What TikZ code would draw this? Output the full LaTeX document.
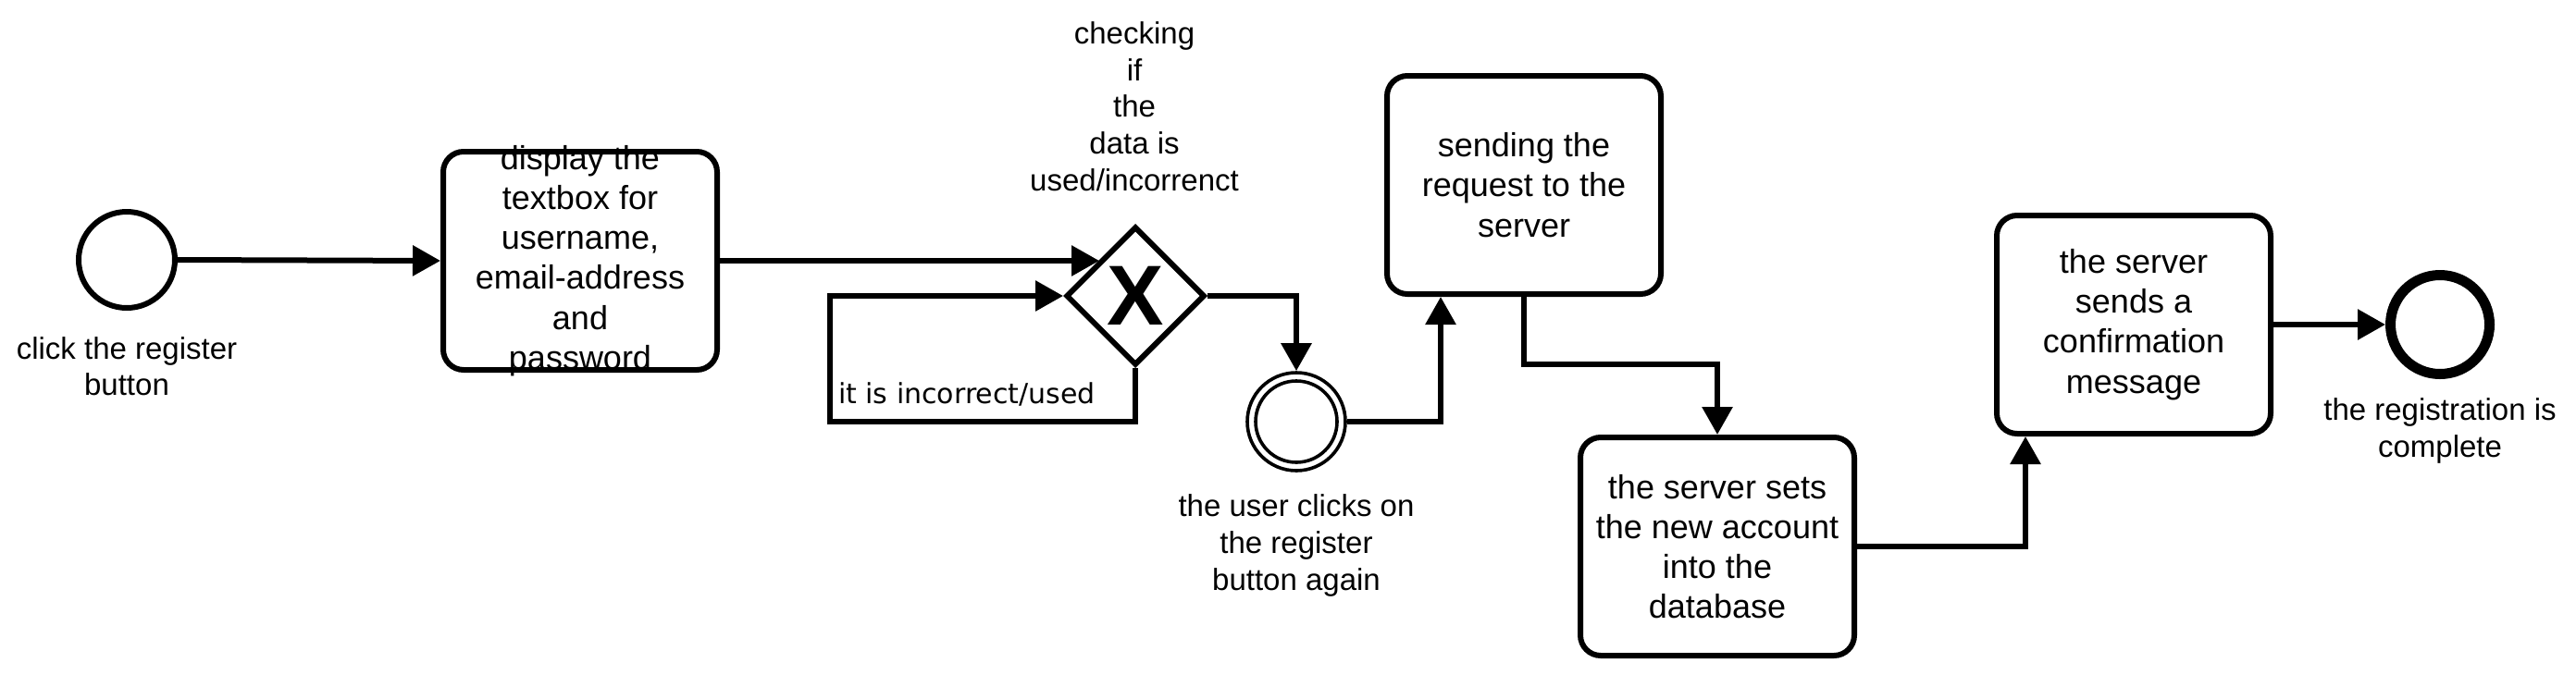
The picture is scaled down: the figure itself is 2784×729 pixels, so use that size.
\documentclass[tikz,border=0pt]{standalone}
\usepackage{fontspec}
\setmainfont{Liberation Sans}
\newfontfamily\dejavu{DejaVu Sans}
\usetikzlibrary{shapes.geometric,arrows.meta,calc}
\begin{document}
\begin{tikzpicture}[x=0.25pt,y=-0.25pt,
  line width=1.5pt,
  conn/.style={-{Triangle[length=7.5pt,width=8pt]}, line width=1.5pt, line join=miter},
  task/.style={draw, rounded corners=5.5pt, minimum width=74pt, minimum height=59pt, inner sep=0pt, line width=1.5pt},
  tasktext/.style={align=center, inner sep=0pt, font=\fontsize{9}{10.8}\selectfont},
  lbl/.style={align=center, inner sep=0pt, font=\fontsize{8.25}{9.9}\selectfont},
  startev/.style={draw, circle, minimum size=26pt, inner sep=0pt, line width=1.5pt},
  endev/.style={draw, circle, minimum size=26.75pt, inner sep=0pt, line width=2.75pt},
  interev/.style={draw, circle, minimum size=26.5pt, inner sep=0pt, line width=0.9pt},
  gateway/.style={draw, diamond, aspect=1, minimum width=37.5pt, minimum height=37.5pt, inner sep=0pt, line width=1.5pt, font=\fontsize{23}{23}\selectfont\bfseries}
]
\path[use as bounding box, fill=white] (0,0) rectangle (2784,729);

% events
\node[startev] (start) at (137,281) {};
\node[lbl] (startlbl) at (137,396) {click the register\\button};

\node[task] (t1) at (627,282) {};
\node[tasktext] (t1txt) at (627,282) {display the\\textbox for\\username,\\email-address\\and\\password};

\node[gateway] (gw) at (1227,320) {X};
\node[lbl] (gwlbl) at (1226,115) {checking\\if\\the\\data is\\used/incorrenct};

\node[interev] (ev2) at (1401,456) {};
\draw[line width=0.9pt] (ev2.center) circle[radius=11pt];
\node[lbl] (ev2lbl) at (1401,590) {the user clicks on\\the register\\button again};

\node[task] (t2) at (1647,200) {};
\node[tasktext] (t2txt) at (1647,200) {sending the\\request to the\\server};

\node[task] (t3) at (1856,591) {};
\node[tasktext] (t3txt) at (1856,591) {the server sets\\the new account\\into the\\database};

\node[task] (t4) at (2306,351) {};
\node[tasktext] (t4txt) at (2306,351) {the server\\sends a\\confirmation\\message};

\node[endev] (end) at (2637,351) {};
\node[lbl] (endlbl) at (2637,466) {the registration is\\complete};

% helper coordinates
\coordinate (l1) at (897,456);
\coordinate (l2) at (897,320);
\coordinate (c2) at (1557,0);
\coordinate (m3) at (0,394);
\coordinate (c4) at (2189,0);

% connectors
\draw[conn] (start.east) -- (t1.west);
\draw[conn] (t1.east) -- (t1.east -| gw.north west);
\draw[conn] (gw.south) |- (l1) -- (l2) -- (gw.west);
\node[anchor=west, inner sep=0pt, font=\dejavu\fontsize{7.5}{9}\selectfont] (looplbl) at (903,426) {it is incorrect/used};
\draw[conn] (gw.east) -| (ev2.north);
\draw[conn] (ev2.east) -| (c2 |- t2.south);
\draw[conn] (t2.south) -- (t2.south |- m3) -| (t3.north);
\draw[conn] (t3.east) -| (c4 |- t4.south);
\draw[conn] (t4.east) -- (end.west);
\end{tikzpicture}
\end{document}
